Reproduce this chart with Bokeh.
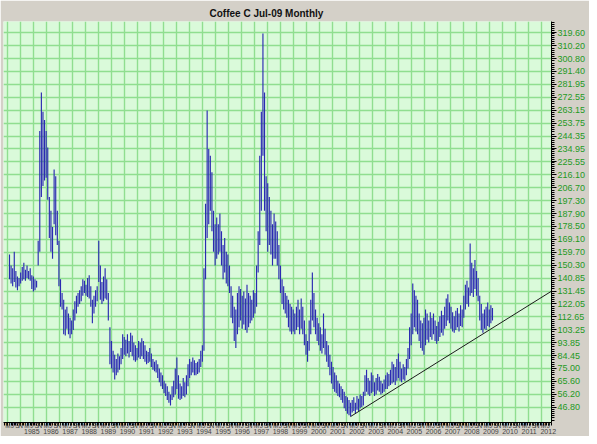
import numpy as np
from bokeh.plotting import figure
from bokeh.models import (Range1d, LinearAxis, FixedTicker, Grid,
                          PrintfTickFormatter)
from bokeh.embed import file_html
from bokeh.resources import INLINE

# ---------------- data ----------------
title_text = "Coffee C Jul-09  Monthly"
start_year, start_month = 1984, 4   # first monthly bar

highs = [158, 150, 148, 160, 146, 142, 141, 145, 149, 152, 147, 150, 146, 148, 143, 142, 140, 139, 168,
         248, 276, 262, 256, 248, 236, 200, 190, 178, 220, 215, 190, 168, 140, 130, 125, 118, 120, 115, 112, 110, 118,
         124, 128, 130, 132, 135, 140, 139, 136, 141, 143, 135, 125, 128, 132, 135, 168, 150, 138, 142, 148, 140, 130, 105,
         95, 88, 85, 82, 86, 84, 90, 100, 98, 96, 100, 95, 101, 99, 94, 92, 90, 95, 94, 97, 95, 92, 88, 87, 90,
         86, 82, 80, 81, 78, 75, 72, 70, 66, 64, 62, 58, 56, 62, 66, 75, 83, 70, 64, 62, 68, 65, 70,
         78, 82, 80, 83, 81, 79, 80, 82, 88, 92,
         148, 195, 263, 235, 230, 218, 190, 180, 185, 180, 188, 175, 165, 170, 160, 158, 150, 135, 128, 120, 118,
         130, 135, 133, 128, 131, 126, 136, 130, 128, 125, 132, 130, 150, 175,
         230, 262, 319, 276, 215, 210, 200, 190, 180, 188, 182, 175, 165, 150, 140, 135, 130, 128,
         125, 122, 120, 118, 115, 120, 125, 118, 126, 120, 110, 100, 95, 110, 125, 145, 130,
         118, 112, 108, 105, 100, 115, 104, 95, 92, 85, 80, 76, 72, 70, 66, 64,
         62, 60, 58, 55, 54, 52, 50, 52, 54, 50, 55, 53, 56, 55, 58,
         70, 74, 68, 66, 72, 70, 65, 68, 71, 69, 66, 64, 67, 70, 72, 71, 74,
         80, 78, 76, 82, 86, 80, 75, 78, 76, 82, 90, 105, 115, 137, 132, 128,
         125, 115, 110, 108, 112, 118, 115, 110, 116, 112, 115, 110, 106, 109, 113, 117, 114, 120,
         126, 129, 123, 120, 116, 113, 117, 119, 115, 121, 118, 128, 136, 139, 134, 166,
         152, 148, 154, 146, 141, 128, 122, 115, 118, 120, 123, 118, 121, 119]

lows = [140, 137, 135, 138, 134, 132, 135, 137, 139, 140, 139, 141, 140, 139, 133, 131, 132, 134, 150,
        160, 200, 208, 212, 214, 198, 170, 160, 155, 180, 172, 165, 135, 120, 118, 100, 99, 104, 100, 97, 100, 103,
        110, 115, 120, 122, 124, 128, 130, 128, 127, 126, 120, 108, 115, 120, 124, 138, 125, 122, 124, 126, 125, 110, 78,
        75, 72, 67, 70, 72, 74, 78, 82, 85, 84, 86, 83, 87, 84, 81, 80, 81, 83, 82, 84, 82, 80, 78, 79, 80,
        76, 74, 73, 72, 68, 65, 62, 60, 57, 55, 52, 50, 48, 52, 54, 56, 60, 53, 52, 53, 55, 54, 56,
        62, 68, 70, 72, 70, 70, 71, 72, 76, 80,
        88, 140, 170, 180, 190, 175, 160, 150, 155, 158, 160, 150, 140, 145, 137, 135, 130, 112, 108, 95, 90,
        100, 105, 110, 104, 107, 103, 101, 105, 108, 110, 112, 115, 120, 145,
        165, 190, 230, 190, 175, 160, 165, 158, 150, 155, 155, 150, 140, 130, 122, 118, 115, 112,
        105, 102, 100, 102, 100, 103, 105, 100, 104, 100, 92, 85, 80, 88, 100, 110, 105,
        100, 95, 92, 88, 86, 90, 85, 80, 76, 70, 64, 60, 58, 57, 55, 54,
        52, 50, 46, 44, 42, 41, 40, 43, 44, 42, 45, 44, 46, 47, 48,
        55, 58, 56, 55, 57, 58, 55, 56, 59, 58, 56, 57, 58, 60, 60, 62, 63,
        64, 65, 63, 66, 68, 66, 65, 67, 66, 70, 75, 82, 92, 100, 105, 102,
        100, 95, 90, 88, 85, 92, 96, 94, 98, 96, 100, 95, 93, 95, 98, 101, 99, 104,
        106, 110, 108, 104, 102, 101, 103, 105, 102, 106, 105, 112, 118, 122, 120, 128,
        130, 127, 133, 128, 124, 110, 103, 101, 104, 103, 106, 105, 108, 110]

# support line (month "YYYY-MM", price)
trend_months = ["2002-02", "2012-08"]
trend_prices = [40.0, 131.3]

price_tick_labels = ["46.80", "56.20", "65.60", "75.00", "84.45", "93.85", "103.25", "112.65",
                     "122.05", "131.45", "140.85", "150.30", "159.70", "169.10", "178.50",
                     "187.90", "197.30", "206.70", "216.10", "225.55", "234.95", "244.35",
                     "253.75", "263.15", "272.55", "281.95", "291.40", "300.80", "310.20",
                     "319.60"]
year_labels = [str(y) for y in range(1985, 2013)]
month_letters = ["M", "J", "S", "N"]
month_letter_offsets = [2, 5, 8, 10]

# ---------------- helpers ----------------
def month_index(year, month):
    return (year - 1984) * 12 + (month - 1)

n = len(highs)
x = np.arange(n) + month_index(start_year, start_month)
tx = [month_index(int(s[:4]), int(s[5:])) for s in trend_months]

BG = "#dafada"
GRID = "#90de90"
PANEL = "#d4d0c8"

p = figure(width=589, height=436,
           x_range=Range1d(-0.76, 343.03), y_range=Range1d(35.65, 327.8),
           x_axis_location=None, y_axis_location=None,
           output_backend="svg", toolbar_location=None,
           min_border_left=3, min_border_right=38, min_border_top=21, min_border_bottom=14)
p.center = [r for r in p.center if not isinstance(r, Grid)]
p.background_fill_color = BG
p.border_fill_color = PANEL
p.outline_line_color = None

p.title.text = title_text
p.title.align = "left"
p.title.offset = 206
p.title.standoff = 6
p.title.text_font = "Liberation Sans"
p.title.text_font_size = "10px"
p.title.text_font_style = "bold"
p.title.text_color = "#111111"

# grids
yt = [float(s) for s in price_tick_labels]
step = yt[1] - yt[0]
p.add_layout(Grid(dimension=1, ticker=FixedTicker(ticks=yt + [yt[-1] + step]),
                  grid_line_color=GRID, grid_line_width=1.4))
vgrid = list(1.745 + 8.168 * np.arange(0, 43))
p.add_layout(Grid(dimension=0, ticker=FixedTicker(ticks=vgrid),
                  grid_line_color=GRID, grid_line_width=1.4))

# right price axis
yminor = list(np.arange(yt[0] - step, yt[-1] + step, step / 6))
yax = LinearAxis(ticker=FixedTicker(ticks=yt, minor_ticks=yminor),
                 formatter=PrintfTickFormatter(format="%.2f"))
yax.major_tick_out = 5
yax.major_tick_in = 0
yax.minor_tick_out = 3
yax.minor_tick_in = 0
yax.major_label_standoff = 1
yax.major_label_text_font = "Liberation Sans"
yax.major_label_text_font_size = "9px"
yax.major_label_text_color = "#1f9a1f"
yax.axis_line_color = "black"
yax.major_tick_line_color = "black"
yax.minor_tick_line_color = "black"
p.add_layout(yax, "right")

# bottom axes: month letters, then years
years = range(1984, 2013)
letter_ticks, letter_over = [], {}
for yr in years:
    for off, lt in zip(month_letter_offsets, month_letters):
        t = month_index(yr, 1) + off
        letter_ticks.append(t)
        letter_over[t] = lt
all_months = list(range(-1, 346))
xax1 = LinearAxis(ticker=FixedTicker(ticks=letter_ticks, minor_ticks=all_months),
                  major_label_overrides=letter_over)
xax1.major_tick_out = 3
xax1.major_tick_in = 0
xax1.minor_tick_out = 3
xax1.minor_tick_in = 0
xax1.major_label_standoff = -4
xax1.major_label_text_font = "Liberation Sans"
xax1.major_label_text_font_size = "6.5px"
xax1.axis_line_color = "black"
p.add_layout(xax1, "below")

year_ticks, year_over = [], {}
for lab in year_labels:
    t = month_index(int(lab), 1) + 5
    year_ticks.append(t)
    year_over[t] = lab
xax2 = LinearAxis(ticker=FixedTicker(ticks=year_ticks, minor_ticks=[]),
                  major_label_overrides=year_over)
xax2.major_tick_out = 0
xax2.major_tick_in = 0
xax2.major_label_standoff = -3
xax2.major_label_text_font = "Liberation Sans"
xax2.major_label_text_font_size = "7px"
xax2.axis_line_color = None
p.add_layout(xax2, "below")

# OHLC-style monthly bars (high-low)
p.segment(x0=x, y0=lows, x1=x, y1=highs, line_color="#2a2ab2", line_width=1.15)

# support trend line
p.line(tx, trend_prices, line_color="#1a1a1a", line_width=1)

open("out.html", "w").write(file_html(p, INLINE))
